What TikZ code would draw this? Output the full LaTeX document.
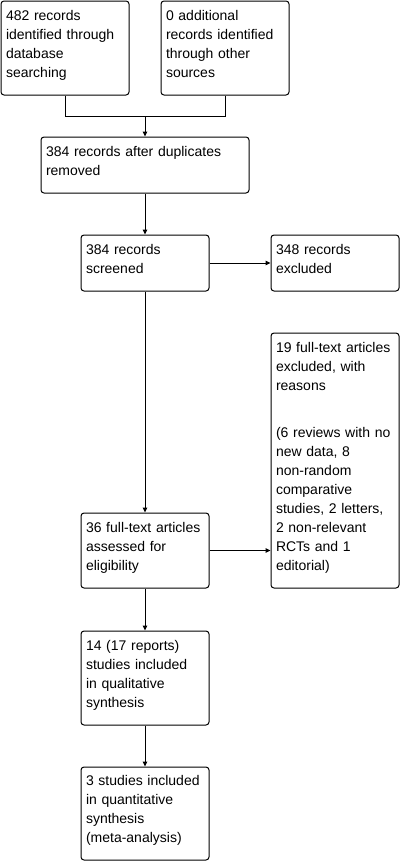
\documentclass[tikz,border=0pt]{standalone}
\usepackage{fontspec}
\setmainfont{Liberation Sans}
\usetikzlibrary{arrows.meta}

\tikzset{
  box/.style={draw, rounded corners=3pt, align=left, inner xsep=5pt, inner ysep=0pt,
    text width=118pt, font=\fontsize{14}{19}\selectfont,
    execute at end node={\rule[-9pt]{0pt}{9pt}}},
  arr/.style={-{Triangle[length=5pt, width=4.5pt]}}
}

\begin{document}
\begin{tikzpicture}[x=1pt, y=-1pt, line width=1pt]
  \path[use as bounding box] (0, 0) rectangle (402, 862);

  % identification
    \node[box, minimum height=94pt] at (65, 48) (db) {482 records\\identified through\\database\\searching};
    \node[box, minimum height=94pt] at (225, 48) (other) {0 additional\\records identified\\through other\\sources};
    \coordinate (join) at (145, 116);
    \draw (db.south) |- (join);
    \draw (other.south) |- (join);

  % screening
    \node[box, text width=198pt, minimum height=56pt] at (145, 165) (dup) {384 records after duplicates\\removed};
    \draw[arr] (join) -- (dup);

    \node[box, minimum height=56pt] at (145, 263) (screen) {384 records\\screened};
    \node[box, minimum height=56pt] at (335, 263) (excl) {348 records\\excluded};
    \draw[arr] (dup) -- (screen);
    \draw[arr] (screen) -- (excl);

  % eligibility
    \node[box, minimum height=255pt] at (335, 460.5) (ftexcl) {19 full-text articles\\excluded, with\\reasons\\[28pt](6 reviews with no\\new data, 8\\non-random\\comparative\\studies, 2 letters,\\2 non-relevant\\RCTs and 1\\editorial)};
    \node[box, minimum height=75pt] at (145, 550.5) (ftass) {36 full-text articles\\assessed for\\eligibility};
    \draw[arr] (screen) -- (ftass);
    \draw[arr] (ftass.east) -- (ftass.east -| ftexcl.west);

  % included
    \node[box, minimum height=94pt] at (145, 678) (qual) {14 (17 reports)\\studies included\\in qualitative\\synthesis};
    \node[box, minimum height=93pt] at (145, 813.5) (quant) {3 studies included\\in quantitative\\synthesis\\(meta-analysis)};
    \draw[arr] (ftass) -- (qual);
    \draw[arr] (qual) -- (quant);
\end{tikzpicture}
\end{document}
